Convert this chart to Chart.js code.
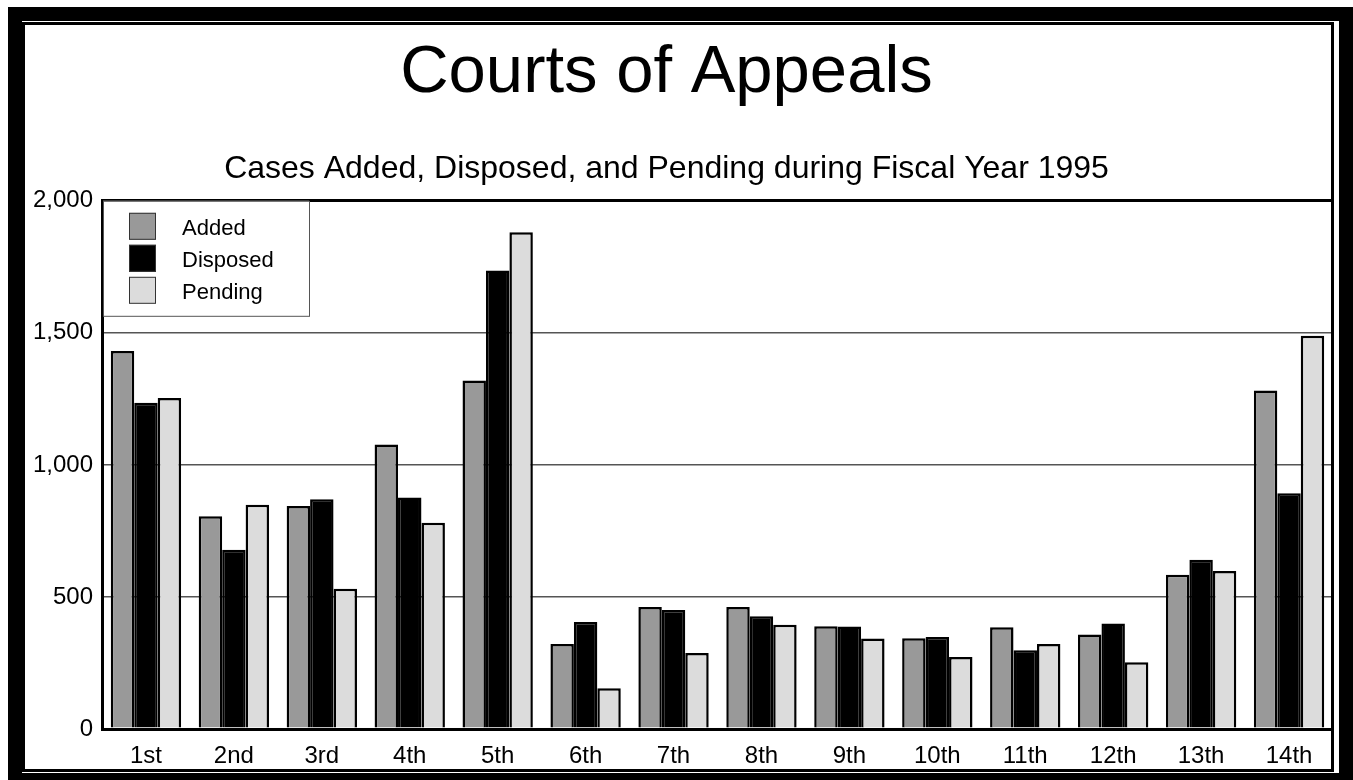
<!DOCTYPE html>
<html>
<head>
<meta charset="utf-8">
<title>Courts of Appeals</title>
<script src="https://cdn.jsdelivr.net/npm/chart.js@4.4.1/dist/chart.umd.min.js"></script>
<style>
  html, body { margin: 0; padding: 0; background: #fff; overflow: hidden; }
  #wrap { position: relative; width: 1353px; height: 780px; }
  #courtsChart { position: absolute; left: 0; top: 0; }
  .frame { position: absolute; box-sizing: border-box; pointer-events: none; }
  #outer { left: 8px; top: 7px; width: 1345px; height: 780px; border: 14px solid #000; }
  #inner { left: 22px; top: 22px; width: 1312px; height: 750px; border: 3px solid #000; }
</style>
</head>
<body>
<div id="wrap">
  <canvas id="courtsChart" width="1353" height="780"></canvas>
  <div class="frame" id="outer"></div>
  <div class="frame" id="inner"></div>
</div>
<script>
// circuits and counts
var circuits = ['1st', '2nd', '3rd', '4th', '5th', '6th', '7th', '8th', '9th', '10th', '11th', '12th', '13th', '14th']
var added    = [1431, 806, 844, 1077, 1320, 322, 462, 462, 389, 344, 385, 358, 584, 1282]
var disposed = [1235, 679, 870, 877, 1736, 405, 451, 427, 388, 348, 298, 399, 641, 893]
var pending  = [1253, 849, 531, 781, 1881, 154, 288, 395, 343, 273, 322, 253, 598, 1489]
var yTicks   = [0, 500, 1000, 1500, 2000]

var fontFamily = "'Liberation Sans', Arial, sans-serif"

//-------------------
//- LEGEND IN A BOX -
//-------------------
var boxLegend = {
  id: 'boxLegend',
  afterDraw: function(chart) {
    var ctx = chart.ctx
    var area = chart.chartArea
    var x = area.left + 1, y = area.top
    ctx.save()
    ctx.fillStyle = '#fff'
    ctx.fillRect(x, y, 206, 115)
    ctx.strokeStyle = '#555'
    ctx.lineWidth = 1
    ctx.strokeRect(x + 0.5, y + 0.5, 206, 115)

    ctx.font = '22px ' + fontFamily
    ctx.textBaseline = 'middle'
    chart.data.datasets.forEach(function(ds, i) {
      var sy = y + 12 + i * 32
      ctx.fillStyle = ds.backgroundColor
      ctx.fillRect(x + 26, sy, 27, 27)
      ctx.strokeStyle = '#333'
      ctx.strokeRect(x + 26.5, sy + 0.5, 26, 26)
      ctx.fillStyle = '#000'
      ctx.fillText(ds.label, x + 79, sy + 16)
    })
    ctx.restore()
  }
}

var chartData = {
  labels: circuits,
  datasets: [
    { label: 'Added',    data: added,    backgroundColor: '#999999' },
    { label: 'Disposed', data: disposed, backgroundColor: '#000000' },
    { label: 'Pending',  data: pending,  backgroundColor: '#dcdcdc' }
  ]
}
chartData.datasets.forEach(function(ds) {
  ds.borderColor = '#000'
  ds.borderWidth = 2.5
  ds.categoryPercentage = 0.8
  ds.barPercentage = 1.0
})

var ctx = document.getElementById('courtsChart').getContext('2d')
var courtsChart = new Chart(ctx, {
  type: 'bar',
  data: chartData,
  plugins: [boxLegend],
  options: {
    responsive: false,
    animation: false,
    layout: { padding: { left: 0, right: 20, top: 10, bottom: 0 } },
    plugins: {
      legend: { display: false },
      tooltip: { enabled: false },
      title: {
        display: true,
        text: 'Courts of Appeals',
        color: '#000',
        font: { family: fontFamily, size: 67, weight: 'normal' },
        padding: { top: 23, bottom: 15 }
      },
      subtitle: {
        display: true,
        text: 'Cases Added, Disposed, and Pending during Fiscal Year 1995',
        color: '#000',
        font: { family: fontFamily, size: 32, weight: 'normal' },
        padding: { top: 22, bottom: 12 }
      }
    },
    scales: {
      x: {
        grid: { display: false },
        border: { color: '#000', width: 3 },
        ticks: { color: '#000', padding: 5, font: { family: fontFamily, size: 24 } },
        afterFit: function(scale) { scale.height = 51 }
      },
      y: {
        min: 0,
        max: 2000,
        afterBuildTicks: function(scale) {
          scale.ticks = yTicks.map(function(v) { return { value: v } })
        },
        grid: {
          drawTicks: false,
          color: function(c) { return (c.tick.value === 0 || c.tick.value === 2000) ? '#000' : '#555' },
          lineWidth: function(c) { return (c.tick.value === 0 || c.tick.value === 2000) ? 3 : 1.5 }
        },
        border: { color: '#000', width: 3 },
        ticks: {
          color: '#000',
          padding: 9,
          font: { family: fontFamily, size: 24 },
          callback: function(v) { return v.toLocaleString('en-US') }
        },
        afterFit: function(scale) { scale.width = 102 }
      }
    }
  }
})
</script>
</body>
</html>
